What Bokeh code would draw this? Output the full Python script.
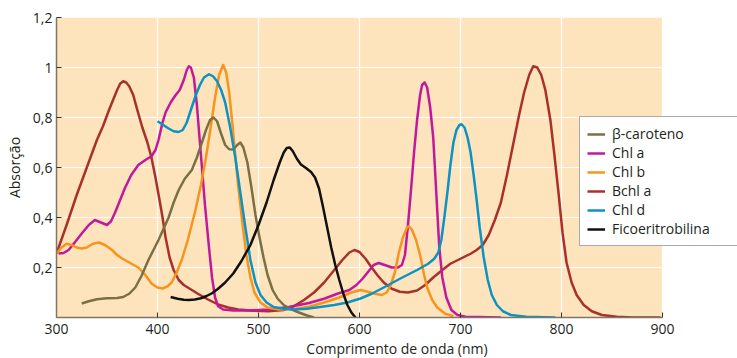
from bokeh.plotting import figure
from bokeh.models import Legend, LegendItem, FixedTicker, Range1d, BoxAnnotation
from bokeh.embed import file_html
from bokeh.resources import INLINE

# ---- data ----
bchl_a_x = [300, 310, 320, 330, 340, 346, 352, 356, 360, 363, 366, 369, 372, 376, 380, 385, 390, 394, 398, 402, 405,
            408, 412, 416, 421, 426, 432, 440, 450, 460, 470, 480, 495, 510, 525, 535, 545, 555, 565, 575, 583, 590,
            595, 600, 606, 612, 618, 624, 632, 640, 648, 657, 665, 673, 682, 690, 700, 710, 716, 722, 728, 734, 740,
            746, 752, 758, 763, 768, 772, 776, 780, 784, 789, 793, 797, 801, 805, 810, 815, 822, 830, 840, 855, 870,
            898]
bchl_a_y = [0.256, 0.37, 0.49, 0.60, 0.71, 0.765, 0.83, 0.87, 0.91, 0.935, 0.945, 0.94, 0.925, 0.89, 0.83, 0.76, 0.70,
            0.64, 0.56, 0.47, 0.40, 0.32, 0.24, 0.19, 0.15, 0.13, 0.115, 0.095, 0.072, 0.052, 0.04, 0.032, 0.027,
            0.025, 0.03, 0.045, 0.07, 0.10, 0.14, 0.19, 0.23, 0.26, 0.27, 0.262, 0.235, 0.20, 0.168, 0.14, 0.115,
            0.103, 0.10, 0.108, 0.13, 0.16, 0.19, 0.215, 0.235, 0.255, 0.27, 0.29, 0.33, 0.39, 0.46, 0.57, 0.69,
            0.81, 0.90, 0.97, 1.005, 1.0, 0.97, 0.91, 0.79, 0.65, 0.50, 0.34, 0.22, 0.14, 0.09, 0.05, 0.025, 0.01,
            0.003, 0.0, 0.0]

chl_a_x = [302, 307, 312, 318, 325, 332, 338, 344, 350, 354, 358, 363, 368, 374, 381, 388, 394, 398, 401, 405, 408,
           413, 418, 422, 426, 429, 431, 433, 436, 439, 441, 444, 447, 451, 454, 457, 460, 465, 475, 490, 510, 530,
           550, 565, 578, 590, 597, 603, 609, 614, 619, 625, 632, 638, 642, 645, 648, 651, 654, 657, 660, 662, 664.5,
           667, 670, 673, 676, 679, 682, 686, 691, 697, 705, 740]
chl_a_y = [0.256, 0.258, 0.27, 0.30, 0.336, 0.37, 0.39, 0.38, 0.37, 0.385, 0.42, 0.47, 0.52, 0.57, 0.61, 0.63, 0.645,
           0.67, 0.71, 0.78, 0.82, 0.86, 0.89, 0.91, 0.95, 0.99, 1.005, 1.0, 0.96, 0.85, 0.75, 0.60, 0.45, 0.28,
           0.16, 0.08, 0.045, 0.032, 0.028, 0.028, 0.032, 0.042, 0.058, 0.075, 0.095, 0.11, 0.13, 0.155, 0.185,
           0.21, 0.218, 0.21, 0.20, 0.20, 0.21, 0.25, 0.37, 0.51, 0.66, 0.79, 0.89, 0.93, 0.94, 0.92, 0.84, 0.72,
           0.50, 0.28, 0.16, 0.08, 0.03, 0.01, 0.003, 0.0]

chl_b_x = [300, 305, 310, 315, 320, 325, 330, 336, 342, 348, 355, 360, 365, 372, 381, 388, 394, 400, 405, 410, 414,
           419, 424, 430, 437, 443, 448, 453, 457, 461, 465, 468, 471, 474, 477, 480, 484, 488, 492, 496, 502, 509,
           520, 535, 550, 565, 580, 592, 601, 608, 615, 622, 627, 631, 635, 639, 643, 647, 649, 652, 656, 660, 664,
           667, 672, 677, 685, 693]
chl_b_y = [0.256, 0.28, 0.295, 0.29, 0.28, 0.276, 0.28, 0.295, 0.30, 0.29, 0.27, 0.25, 0.236, 0.22, 0.20, 0.17, 0.136,
           0.12, 0.116, 0.125, 0.14, 0.18, 0.23, 0.31, 0.42, 0.53, 0.64, 0.77, 0.88, 0.97, 1.01, 0.98, 0.90, 0.78,
           0.65, 0.52, 0.38, 0.25, 0.16, 0.10, 0.06, 0.04, 0.032, 0.034, 0.043, 0.06, 0.08, 0.10, 0.11, 0.103,
           0.095, 0.09, 0.10, 0.13, 0.18, 0.26, 0.32, 0.36, 0.365, 0.35, 0.31, 0.25, 0.17, 0.12, 0.07, 0.04, 0.015,
           0.005]

beta_car_x = [325, 332, 340, 350, 360, 366, 372, 378, 384, 391, 396, 401, 406, 411, 416, 421, 427, 434, 439, 444, 448,
              452, 455.5, 459, 463, 467, 471, 475, 479, 482, 485, 489, 493, 497, 501, 505, 509, 514, 519, 525, 532,
              540, 548, 555]
beta_car_y = [0.056, 0.065, 0.073, 0.077, 0.078, 0.082, 0.095, 0.12, 0.165, 0.23, 0.27, 0.31, 0.355, 0.40, 0.46, 0.51,
              0.555, 0.59, 0.64, 0.70, 0.75, 0.79, 0.80, 0.785, 0.735, 0.69, 0.673, 0.672, 0.69, 0.70, 0.68, 0.62,
              0.52, 0.41, 0.32, 0.24, 0.17, 0.11, 0.075, 0.05, 0.034, 0.02, 0.008, 0.0]

chl_d_x = [400, 405, 411, 416, 421, 425, 429, 433, 438, 442, 446, 451, 455, 459, 463, 467, 472, 477, 482, 487, 492,
           497, 502, 508, 515, 525, 535, 548, 561, 575, 588, 601, 612, 624, 640, 657, 668, 674, 678, 681, 684, 687,
           690, 693, 696, 699, 701, 704, 707, 710, 713, 716, 719, 723, 727, 731, 736, 742, 750, 765, 794]
chl_d_y = [0.785, 0.772, 0.756, 0.745, 0.742, 0.75, 0.78, 0.83, 0.89, 0.93, 0.96, 0.973, 0.965, 0.945, 0.91, 0.86,
           0.76, 0.64, 0.50, 0.36, 0.23, 0.14, 0.09, 0.06, 0.042, 0.035, 0.032, 0.035, 0.042, 0.05, 0.06, 0.076,
           0.095, 0.12, 0.155, 0.19, 0.215, 0.235, 0.26, 0.31, 0.40, 0.50, 0.61, 0.70, 0.75, 0.77, 0.773, 0.76,
           0.72, 0.66, 0.57, 0.47, 0.36, 0.24, 0.15, 0.09, 0.05, 0.025, 0.01, 0.003, 0.0]

ficoe_x = [413, 420, 426, 431, 437, 443, 448, 454, 460, 467, 475, 483, 492, 500, 508, 515, 521, 525, 528, 531, 534,
           538, 542, 547, 552, 556, 560, 564, 568, 572, 576, 580, 584, 588, 592, 596]
ficoe_y = [0.082, 0.075, 0.071, 0.07, 0.072, 0.077, 0.085, 0.097, 0.115, 0.14, 0.176, 0.225, 0.29, 0.37, 0.46, 0.55,
           0.62, 0.66, 0.678, 0.68, 0.665, 0.635, 0.612, 0.598, 0.582, 0.56, 0.515, 0.44, 0.36, 0.28, 0.21, 0.15,
           0.095, 0.05, 0.02, 0.0]

x_ticks = [300, 400, 500, 600, 700, 800, 900]
y_ticks = [0.2, 0.4, 0.6, 0.8, 1.0, 1.2]
y_tick_labels = ["0,2", "0,4", "0,6", "0,8", "1", "1,2"]

series = [
    ("β-caroteno", beta_car_x, beta_car_y, "#7b7044"),
    ("Chl a", chl_a_x, chl_a_y, "#c1199c"),
    ("Chl b", chl_b_x, chl_b_y, "#f7941d"),
    ("Bchl a", bchl_a_x, bchl_a_y, "#a8302d"),
    ("Chl d", chl_d_x, chl_d_y, "#0c93c4"),
    ("Ficoeritrobilina", ficoe_x, ficoe_y, "#111111"),
]

FONT = "Open Sans"
TXT = "#231f20"
AX = "#7d7768"

# frame spans the whole width; the peach panel covers 300-900 nm only
FRAME_W, FRAME_H = 681, 300
x_end = x_ticks[-1] + (FRAME_W - 606) * (x_ticks[-1] - x_ticks[0]) / 606

p = figure(frame_width=FRAME_W, frame_height=FRAME_H, output_backend="svg", toolbar_location=None,
           x_range=Range1d(x_ticks[0], x_end), y_range=Range1d(0, 1.2),
           min_border_left=56, min_border_top=17, min_border_right=0, min_border_bottom=0)
p.background_fill_color = "white"
p.border_fill_color = "white"
p.outline_line_color = None

panel = BoxAnnotation(left=x_ticks[0], right=x_ticks[-1], fill_color="#fde4bc", fill_alpha=1.0,
                      line_color=None, level="image")
p.add_layout(panel)

renderers = {}
draw_order = ["Bchl a", "Chl a", "Chl b", "β-caroteno", "Chl d", "Ficoeritrobilina"]
lookup = {s[0]: s for s in series}
for name in draw_order:
    _, xs, ys, col = lookup[name]
    renderers[name] = p.line(xs, ys, line_color=col, line_width=2.5, line_join="round")

p.xgrid.grid_line_color = "white"
p.ygrid.grid_line_color = "white"
p.xgrid.grid_line_width = 1.2
p.ygrid.grid_line_width = 1.2
p.xaxis.ticker = FixedTicker(ticks=x_ticks)
p.yaxis.ticker = FixedTicker(ticks=y_ticks)
p.yaxis.major_label_overrides = dict(zip(y_ticks, y_tick_labels))
p.xaxis.bounds = (x_ticks[0], x_ticks[-1])

for ax in (p.xaxis, p.yaxis):
    ax.axis_line_color = AX
    ax.axis_line_width = 1.5
    ax.major_tick_line_color = "#333333"
    ax.major_tick_in = 5
    ax.major_tick_out = 0
    ax.minor_tick_line_color = None
    ax.major_label_text_font = FONT
    ax.major_label_text_font_size = "14px"
    ax.major_label_text_color = TXT
    ax.axis_label_text_font = FONT
    ax.axis_label_text_font_size = "14px"
    ax.axis_label_text_font_style = "normal"
    ax.axis_label_text_color = TXT

p.xaxis.axis_label = "Comprimento de onda (nm)"
p.yaxis.axis_label = "Absorção"
p.xaxis.major_label_standoff = 6
p.xaxis.axis_label_standoff = 2
p.yaxis.major_label_standoff = 4
p.yaxis.axis_label_standoff = 6

legend = Legend(items=[LegendItem(label=s[0], renderers=[renderers[s[0]]]) for s in series],
                location=(523, 71))
legend.background_fill_color = "white"
legend.background_fill_alpha = 1.0
legend.border_line_color = "#555555"
legend.border_line_width = 1.5
legend.label_text_font = FONT
legend.label_text_font_size = "14px"
legend.label_text_color = TXT
legend.glyph_width = 18
legend.glyph_height = 16
legend.label_height = 16
legend.label_width = 140
legend.label_standoff = 7
legend.spacing = 0
legend.padding = 7
legend.margin = 0
p.add_layout(legend)

open("out.html", "w").write(file_html(p, INLINE))
